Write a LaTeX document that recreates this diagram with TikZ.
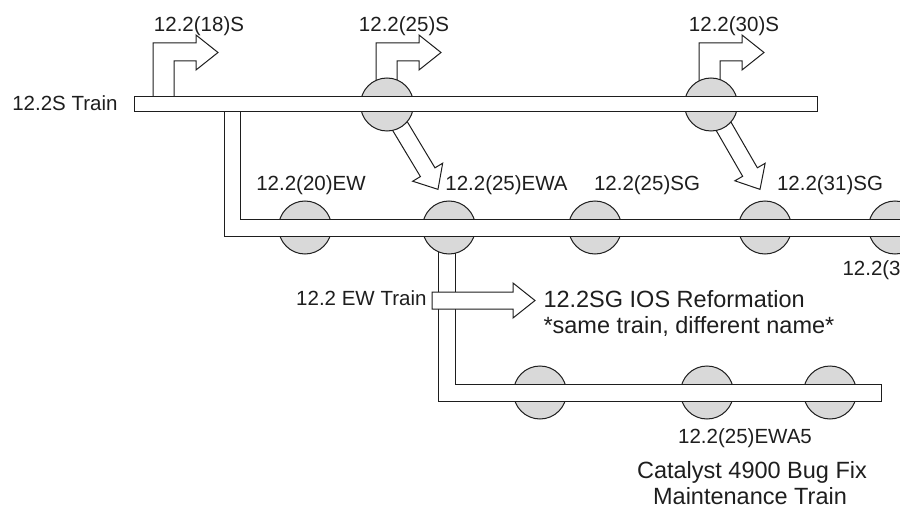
\documentclass[tikz,border=0pt]{standalone}
\usepackage{fontspec}
\setmainfont{Liberation Sans}
\definecolor{ink}{HTML}{1E1E1E}
\definecolor{stopgray}{HTML}{D9D9D9}
\begin{document}
\begin{tikzpicture}[x=1pt,y=-1pt,
  line width=1pt,
  stopnode/.style={circle,draw=ink,fill=stopgray,minimum size=53pt,inner sep=0pt},
  track/.style={draw=ink,fill=white,line join=miter},
  blockarrow/.style={draw=ink,fill=white,line join=miter},
  lbl/.style={text=ink,font=\fontsize{20.5}{22}\selectfont,inner sep=0pt},
  biglbl/.style={text=ink,font=\fontsize{23.5}{26}\selectfont,inner sep=0pt}]
\useasboundingbox (0,0) rectangle (900,508);
\clip (0,0) rectangle (900,508);

% ---- lower train (EW -> Catalyst 4900) ----
\node[stopnode] (b1) at (540,392.5) {};
\node[stopnode] (b2) at (707,392.5) {};
\node[stopnode] (b3) at (830,392.5) {};
\draw[track] (438,226) -- (438,401) -- (881,401) -- (881,384) -- (455,384) -- (455,226);

% ---- middle train ----
\node[stopnode] (m1) at (305,227.5) {};
\node[stopnode] (m2) at (449,227.5) {};
\node[stopnode] (m3) at (595,227.5) {};
\node[stopnode] (m4) at (765,227.5) {};
\node[stopnode] (m5) at (895,227.5) {};
\draw[track] (224,112) -- (224,236) -- (905,236) -- (905,219) -- (240,219) -- (240,112);

% ---- diagonal block arrows from top stops ----
\coordinate (t2c) at (387,104.5);
\coordinate (t3c) at (711,104.5);
\begin{scope}[shift={(t2c)},rotate=-59]
  \draw[blockarrow] (0,-8.5) -- (79,-8.5) -- (79,-17.5) -- (99,0) -- (79,17.5) -- (79,8.5) -- (0,8.5) -- cycle;
\end{scope}
\begin{scope}[shift={(t3c)},rotate=-60]
  \draw[blockarrow] (0,-8.5) -- (78,-8.5) -- (78,-17.5) -- (98,0) -- (78,17.5) -- (78,8.5) -- (0,8.5) -- cycle;
\end{scope}

% ---- bent block arrows above top train ----
\foreach \dx in {0,223,546}{
  \begin{scope}[xshift=\dx]
    \draw[blockarrow] (153,104.5) -- (153,43) -- (196,43) -- (196,35) -- (218,52.5) -- (196,70) -- (196,61) -- (174,61) -- (174,104.5);
  \end{scope}
}

% ---- top train ----
\node[stopnode] (t2) at (t2c) {};
\node[stopnode] (t3) at (t3c) {};
\draw[track] (134,97) rectangle (817,112);

% ---- EW -> SG block arrow ----
\draw[blockarrow] (432,292) -- (513,292) -- (513,283) -- (535,300.5) -- (513,318) -- (513,309) -- (432,309) -- cycle;

% ---- labels ----
\node[lbl,anchor=base east] (lS) at (118,111) {12.2S Train};
\node[lbl,anchor=base] (l18) at (199,32) {12.2(18)S};
\node[lbl,anchor=base] (l25) at (404,32) {12.2(25)S};
\node[lbl,anchor=base] (l30) at (734,32) {12.2(30)S};

\node[lbl,anchor=base] (l20ew) at (311,190) {12.2(20)EW};
\node[lbl,anchor=base] (l25ewa) at (506.5,190) {12.2(25)EWA};
\node[lbl,anchor=base] (l25sg) at (647,190) {12.2(25)SG};
\node[lbl,anchor=base] (l31sg) at (830,190) {12.2(31)SG};
\node[lbl,anchor=base west] (l3x) at (842,275) {12.2(3};

\node[lbl,anchor=base east] (lEW) at (427,305) {12.2 EW Train};
\node[biglbl,anchor=base west] (lSG1) at (543,307) {12.2SG IOS Reformation};
\node[biglbl,anchor=base west] (lSG2) at (543,333) {*same train, different name*};

\node[lbl,anchor=base] (lewa5) at (745,443) {12.2(25)EWA5};
\node[biglbl,anchor=base] (lcat) at (752,478) {Catalyst 4900 Bug Fix};
\node[biglbl,anchor=base,text depth=0pt] (lmt) at (750,504) {Maintenance Train};
\end{tikzpicture}
\end{document}
